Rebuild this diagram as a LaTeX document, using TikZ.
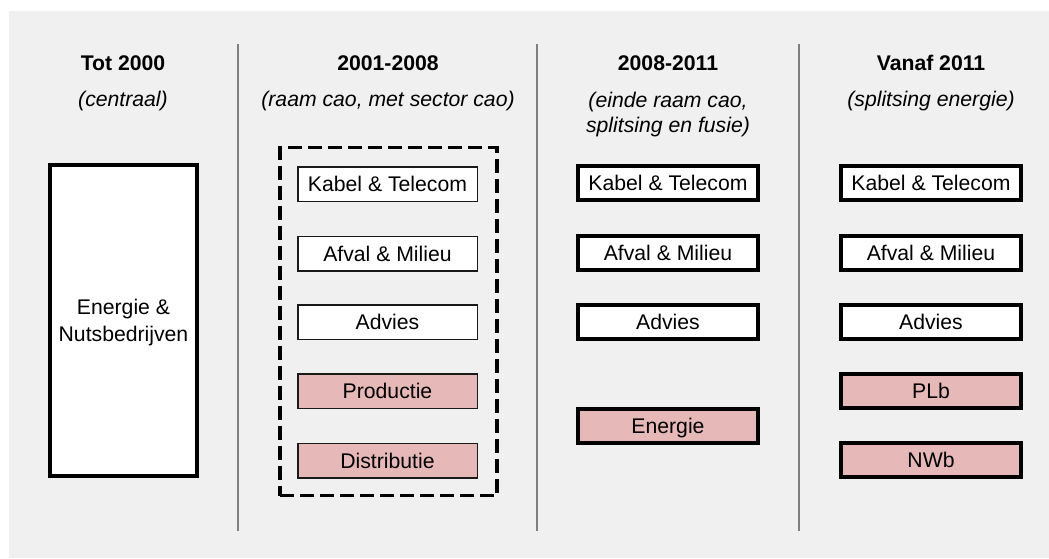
\documentclass[tikz,border=0pt]{standalone}
\usepackage{fontspec}
\setmainfont{Liberation Sans}
\usetikzlibrary{positioning}
\definecolor{achtergrond}{HTML}{F0F0F0}
\definecolor{energiekleur}{HTML}{E6B8B7}
\definecolor{scheiding}{HTML}{808080}

\begin{document}
\begin{tikzpicture}[x=1pt, y=-1pt,
	every node/.style={font=\fontsize{21.2}{27}\selectfont, inner sep=0pt, text height=15.2pt, text depth=0pt},
	twee regels/.style={align=center, text height={}},
	kop/.style={font=\bfseries\fontsize{21.2}{27}\selectfont},
	sub/.style={font=\itshape\fontsize{21.2}{25}\selectfont, align=center},
	dun/.style={draw=black!90, line width=1.5pt, fill=white, minimum width=179.5pt, minimum height=34.5pt},
	dik/.style={draw=black, line width=4pt, fill=white, minimum width=180pt, minimum height=34pt},
	energie/.style={fill=energiekleur}]

	\useasboundingbox (0,0) rectangle (1049,558);
	\fill[achtergrond] (9,11) rectangle (1049,558);

	% scheidingslijnen tussen de perioden
	\foreach \x in {238,537,799}
		\draw[scheiding, line width=1.6pt] (\x,44) -- (\x,531);

	% koppen
	\node[kop] (kop1) at (123,63) {Tot 2000};
	\node[sub] (sub1) at (123,99) {(centraal)};
	\node[kop] (kop2) at (388,63) {2001-2008};
	\node[sub] (sub2) at (388,99) {(raam cao, met sector cao)};
	\node[kop] (kop3) at (668,63) {2008-2011};
	\node[sub, twee regels] (sub3) at (668,112.5) {(einde raam cao,\\splitsing en fusie)};
	\node[kop] (kop4) at (931,63) {Vanaf 2011};
	\node[sub] (sub4) at (931,99) {(splitsing energie)};

	% tot 2000
	\node[dik, twee regels, minimum width=147pt, minimum height=311pt] (centraal) at (123.5,320.5) {Energie \&\\Nutsbedrijven};

	% 2001-2008
	\node[draw, line width=3.5pt, dash pattern=on 14pt off 6pt, minimum width=217pt, minimum height=348pt] (raam) at (388.5,321.5) {};
	\node[dun] (kabelA) at (387.5,184) {Kabel \& Telecom};
	\node[dun] (afvalA) at (387.5,253.5) {Afval \& Milieu};
	\node[dun] (adviesA) at (387.5,322) {Advies};
	\node[dun, energie] (productie) at (387.5,391) {Productie};
	\node[dun, energie] (distributie) at (387.5,460.5) {Distributie};

	% 2008-2011
	\node[dik] (kabelB) at (668,183) {Kabel \& Telecom};
	\node[dik] (afvalB) at (668,252.5) {Afval \& Milieu};
	\node[dik] (adviesB) at (668,321.5) {Advies};
	\node[dik, energie] (energieB) at (668,425.5) {Energie};

	% vanaf 2011
	\node[dik] (kabelC) at (931,183) {Kabel \& Telecom};
	\node[dik] (afvalC) at (931,252.5) {Afval \& Milieu};
	\node[dik] (adviesC) at (931,321.5) {Advies};
	\node[dik, energie] (plb) at (931,390.5) {PLb};
	\node[dik, energie] (nwb) at (931,460) {NWb};
\end{tikzpicture}
\end{document}
